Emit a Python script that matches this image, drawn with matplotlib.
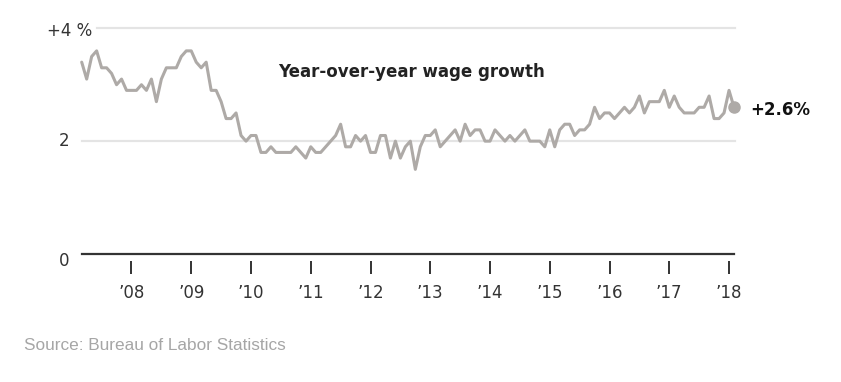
import matplotlib
matplotlib.use("Agg")
import matplotlib.pyplot as plt
import numpy as np

# ---- data: year-over-year wage growth (%), monthly, Mar 2007 - Feb 2018 ----
start_year, start_month = 2007, 3
wage_growth = [
    3.4, 3.1, 3.5, 3.6, 3.3, 3.3, 3.2, 3.0, 3.1, 2.9,                 # 2007 (Mar-Dec)
    2.9, 2.9, 3.0, 2.9, 3.1, 2.7, 3.1, 3.3, 3.3, 3.3, 3.5, 3.6,       # 2008
    3.6, 3.4, 3.3, 3.4, 2.9, 2.9, 2.7, 2.4, 2.4, 2.5, 2.1, 2.0,       # 2009
    2.1, 2.1, 1.8, 1.8, 1.9, 1.8, 1.8, 1.8, 1.8, 1.9, 1.8, 1.7,       # 2010
    1.9, 1.8, 1.8, 1.9, 2.0, 2.1, 2.3, 1.9, 1.9, 2.1, 2.0, 2.1,       # 2011
    1.8, 1.8, 2.1, 2.1, 1.7, 2.0, 1.7, 1.9, 2.0, 1.5, 1.9, 2.1,       # 2012
    2.1, 2.2, 1.9, 2.0, 2.1, 2.2, 2.0, 2.3, 2.1, 2.2, 2.2, 2.0,       # 2013
    2.0, 2.2, 2.1, 2.0, 2.1, 2.0, 2.1, 2.2, 2.0, 2.0, 2.0, 1.9,       # 2014
    2.2, 1.9, 2.2, 2.3, 2.3, 2.1, 2.2, 2.2, 2.3, 2.6, 2.4, 2.5,       # 2015
    2.5, 2.4, 2.5, 2.6, 2.5, 2.6, 2.8, 2.5, 2.7, 2.7, 2.7, 2.9,       # 2016
    2.6, 2.8, 2.6, 2.5, 2.5, 2.5, 2.6, 2.6, 2.8, 2.4, 2.4, 2.5,       # 2017
    2.9, 2.6,                                                         # 2018 (Jan-Feb)
]
tick_years = list(range(2008, 2019))
tick_labels = ["\u2019%02d" % (y % 100) for y in tick_years]
y_values = [0, 2, 4]
y_labels = ["0", "2", "+4 %"]
title = "Year-over-year wage growth"
end_label = "+2.6%"
source = "Source: Bureau of Labor Statistics"

# time axis in fractional years
t = np.array([start_year + (start_month - 1 + i) / 12 for i in range(len(wage_growth))])
v = np.array(wage_growth)

W, H = 841, 382
fig = plt.figure(figsize=(W / 100, H / 100), dpi=100)
fig.patch.set_facecolor("white")

px_scale = (254 - 28.3) / 4.0
y_bottom = -(260.7 - 254) / px_scale
left_px, right_px = 81.7, 734.0
top_px, bottom_px = 28.3, 260.7
ax = fig.add_axes([left_px / W, 1 - bottom_px / H, (right_px - left_px) / W, (bottom_px - top_px) / H])
ax.set_xlim(t[0], t[-1])
ax.set_ylim(y_bottom, 4)
for s in ax.spines.values():
    s.set_visible(False)
ax.set_facecolor("none")

# gridlines
grid_color = "#e4e4e4"
ax.axhline(y_values[1], xmin=0, xmax=1.0015, color=grid_color, lw=1.6, zorder=1, clip_on=False)
ax.axhline(y_values[2], xmin=(96.7 - left_px) / (right_px - left_px), xmax=1.0015, color=grid_color,
           lw=1.6, zorder=1, clip_on=False)
# baseline
ax.axhline(y_values[0], color="#333333", lw=1.6, zorder=2, clip_on=False)

# line and end dot
line_color = "#aeaaa7"
ax.plot(t, v, color=line_color, lw=2.2, solid_joinstyle="round", solid_capstyle="round",
        zorder=3, clip_on=False)
ax.plot(t[-1], v[-1], "o", color=line_color, ms=8, zorder=4, clip_on=False)

# x ticks
ax.set_xticks(tick_years)
ax.set_xticklabels(tick_labels, fontsize=12, color="#333333", family="DejaVu Sans")
ax.tick_params(axis="x", length=9, width=1.4, color="#333333", pad=8, direction="out")
ax.set_yticks([])

# y labels
ytr = ax.get_yaxis_transform()
x_lab = (47 - left_px) / (right_px - left_px)
x_lab_r = (69.5 - left_px) / (right_px - left_px)
ax.text(x_lab_r, y_bottom, y_labels[0], transform=ytr, ha="right", va="center",
        fontsize=12, color="#333333")
ax.text(x_lab_r, y_values[1], y_labels[1], transform=ytr, ha="right", va="center",
        fontsize=12, color="#333333")
ax.text(x_lab, y_values[2] - 0.05, y_labels[2], transform=ytr, ha="left", va="center",
        fontsize=12, color="#333333")

# title annotation
fig.text(411.7 / W, 1 - 72 / H, title, ha="center", va="center", fontsize=12,
         fontweight="bold", color="#222222", family="DejaVu Sans")

# end label
ax.annotate(end_label, xy=(t[-1], v[-1]), xytext=(16.5, -3), textcoords="offset pixels",
            ha="left", va="center", fontsize=12, fontweight="bold", color="#111111",
            annotation_clip=False)

# source
fig.text(24 / W, 1 - 346 / H, source, ha="left", va="center", fontsize=12.4,
         color="#a6a6a6", family="Liberation Sans")

fig.savefig("out.png", dpi=100, facecolor="white")
